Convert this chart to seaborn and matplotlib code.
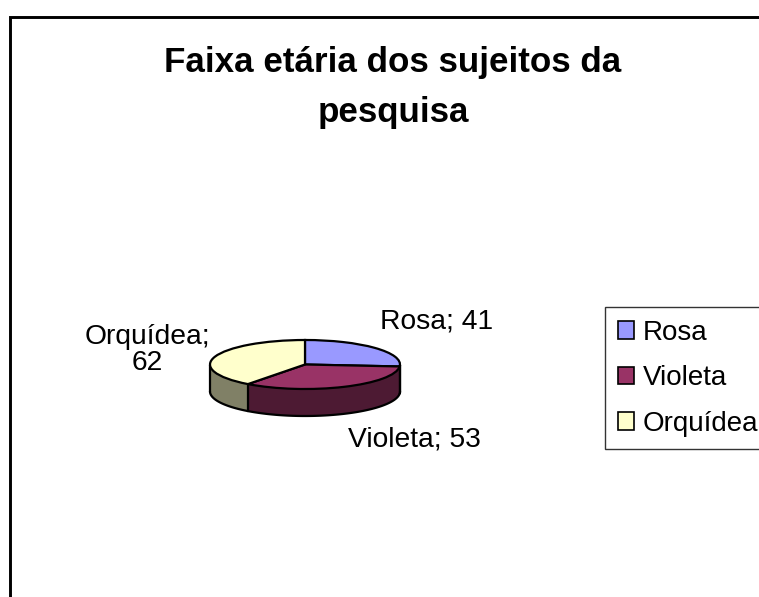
from matplotlib import pyplot as plt
from matplotlib.lines import Line2D
from matplotlib.patches import Patch
import numpy as np
import seaborn as sns

categories = ['Rosa', 'Violeta', 'Orquídea']
values = [41, 53, 62]
top_colors = ['#9999FF', '#993366', '#FFFFCC']
side_colors = ['#4D1A33', '#4D1A33', '#808066']
title = 'Faixa etária dos sujeitos da\npesquisa'

W, H = 759, 597
sns.set_theme(style='white')
plt.rcParams['font.family'] = ['Liberation Sans', 'DejaVu Sans']


def fx(px):
    return px / W


def fy(py):
    return 1 - py / H


fig = plt.figure(figsize=(W / 100, H / 100), dpi=100, facecolor='white')

# chart border, runs off the right and bottom of the picture
fig.add_artist(Line2D([fx(10), fx(10), fx(765)], [fy(605), fy(17), fy(17)], color='black',
                      linewidth=2.1, solid_joinstyle='miter'))

# pie axes: x -1..1 spans the top ellipse, depth hangs under it
rx, ry, depth = 95, 24.5, 27
cx, cy = 305, 364.5
ax = fig.add_axes([fx(cx - rx), fy(cy + ry + depth), 2 * rx / W, (2 * ry + depth) / H])
d = depth / ry

wedges, _ = ax.pie(values, colors=top_colors, startangle=90, counterclock=False, radius=1,
                   wedgeprops=dict(edgecolor='black', linewidth=1.6, zorder=5), normalize=True)
ax.set_aspect('auto')
ax.set_xlim(-1, 1)
ax.set_ylim(-1 - d, 1)
ax.axis('off')

# side wall, only the front half of the ellipse shows
edges = np.cumsum([0] + values) / sum(values) * 360
for i in range(len(values)):
    a0 = max(edges[i], 90)
    a1 = min(edges[i + 1], 270)
    if a1 <= a0:
        continue
    t = np.radians(np.linspace(a0, a1, 80))
    xs = np.sin(t)
    ys = np.cos(t)
    ax.fill_between(xs, ys, ys - d, color=side_colors[i], edgecolor='none', zorder=2, clip_on=False)
    ax.plot(xs, ys - d, color='black', linewidth=1.6, zorder=3, clip_on=False)
    ax.plot([xs[-1], xs[-1]], [ys[-1], ys[-1] - d], color='black', linewidth=1.6, zorder=3, clip_on=False)
ax.plot([1, 1], [0, -d], color='black', linewidth=1.6, zorder=3, clip_on=False)

fig.text(fx(393), fy(87.5), title, ha='center', va='center', fontsize=25.2, fontweight='bold',
         color='black', linespacing=1.62)

fs = 20.3
fig.text(fx(437), fy(322), f'{categories[0]}; {values[0]}', ha='center', va='center', fontsize=fs, color='black')
fig.text(fx(414), fy(440), f'{categories[1]}; {values[1]}', ha='center', va='center', fontsize=fs, color='black')
fig.text(fx(147), fy(350), f'{categories[2]};\n{values[2]}', ha='center', va='center', fontsize=fs, color='black',
         linespacing=1.05)

handles = [Patch(facecolor=c, edgecolor='black', linewidth=1.2) for c in top_colors]
leg = fig.legend(handles, categories, loc='upper left', bbox_to_anchor=(fx(605), fy(307)),
                 bbox_transform=fig.transFigure, fontsize=20, frameon=True, fancybox=False,
                 edgecolor='#333333', framealpha=1, borderaxespad=0, borderpad=0.46, labelcolor='black',
                 handlelength=0.58, handleheight=0.58, handletextpad=0.32, labelspacing=0.70)
leg.get_frame().set_linewidth(1.0)

fig.savefig('out.png', dpi=100)
